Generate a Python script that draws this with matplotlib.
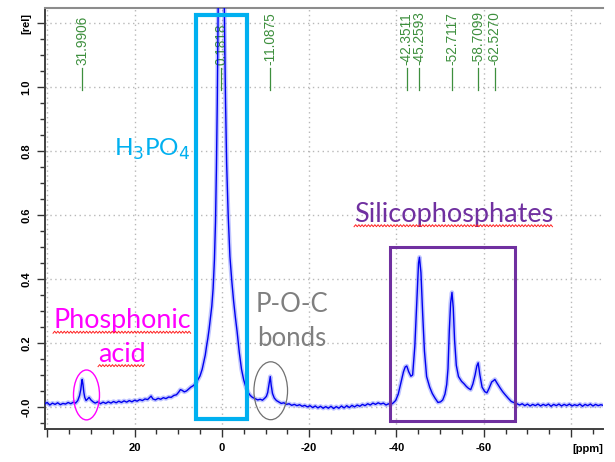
import matplotlib.pyplot as plt
from matplotlib.patches import Rectangle, Ellipse
from matplotlib.lines import Line2D
from matplotlib.transforms import IdentityTransform
from matplotlib.ticker import MultipleLocator

plt.rcParams['axes.unicode_minus'] = False

# 31P spectrum trace: chemical shift (ppm) and relative intensity, 10 points per row
shift_ppm = [40.5, 40.0, 39.4, 38.8, 38.2, 37.6, 37.0, 36.4, 35.8, 35.2,
             34.6, 34.0, 33.5, 33.0, 32.6, 32.3, 32.1, 31.99, 31.8, 31.6,
             31.4, 31.1, 30.8, 30.4, 30.0, 29.5, 29.0, 28.4, 27.8, 27.2,
             26.6, 26.0, 25.4, 24.8, 24.2, 23.6, 23.0, 22.4, 21.8, 21.2,
             20.6, 20.0, 19.4, 18.8, 18.2, 17.6, 17.0, 16.5, 16.2, 15.8,
             15.2, 14.6, 14.0, 13.4, 12.8, 12.2, 11.6, 11.0, 10.4, 9.9,
             9.5, 9.1, 8.6, 8.1, 7.6, 7.1, 6.6, 6.1, 5.6, 5.0,
             4.5, 4.2, 3.8, 3.5, 3.2, 2.9, 2.6, 2.3, 2.0, 1.7,
             1.45, 1.25, 1.05, 0.9, 0.75, 0.5, 0.18, -0.15, -0.45, -0.65,
             -0.85, -1.1, -1.45, -1.85, -2.3, -2.7, -3.1, -3.5, -4.0, -4.5,
             -5.0, -5.5, -6.0, -6.5, -7.0, -7.6, -8.2, -8.8, -9.3, -9.8,
             -10.2, -10.5, -10.8, -11.09, -11.3, -11.6, -12.0, -12.5, -13.0, -13.6,
             -14.2, -14.8, -15.4, -16.0, -16.6, -17.2, -17.8, -18.4, -19.0, -19.6,
             -20.2, -20.8, -21.4, -22.0, -22.6, -23.2, -23.8, -24.4, -25.0, -25.6,
             -26.2, -26.8, -27.4, -28.0, -28.6, -29.2, -29.8, -30.4, -31.0, -31.6,
             -32.2, -32.8, -33.4, -34.0, -34.6, -35.2, -35.8, -36.4, -37.0, -37.6,
             -38.2, -38.6, -39.2, -39.8, -40.4, -41.0, -41.6, -42.0, -42.35, -42.8,
             -43.3, -43.7, -44.2, -44.7, -45.05, -45.26, -45.6, -46.0, -46.4, -46.9,
             -47.6, -48.2, -48.8, -49.5, -50.1, -50.6, -51.1, -51.5, -51.8, -52.1,
             -52.4, -52.71, -53.0, -53.3, -53.7, -54.2, -54.9, -55.5, -56.0, -56.5,
             -57.0, -57.5, -58.0, -58.4, -58.71, -59.1, -59.6, -60.2, -60.7, -61.2,
             -61.8, -62.2, -62.53, -63.0, -63.7, -64.3, -64.9, -65.6, -66.3, -67.0,
             -67.6, -68.2, -68.8, -69.4, -70.0, -70.6, -71.2, -71.8, -72.4, -73.0,
             -73.6, -74.2, -74.8, -75.4, -76.0, -76.6, -77.2, -77.8, -78.4, -79.0,
             -79.6, -80.2, -80.8, -81.4, -82.0, -82.6, -83.2, -83.8, -84.4, -85.0,
             -85.6, -86.2, -86.8, -87.3]
intensity = [0.010, 0.014, 0.006, 0.012, 0.008, 0.013, 0.007, 0.011, 0.009, 0.014,
             0.010, 0.015, 0.012, 0.020, 0.035, 0.055, 0.078, 0.086, 0.070, 0.045,
             0.030, 0.020, 0.024, 0.030, 0.022, 0.016, 0.012, 0.016, 0.010, 0.015,
             0.011, 0.016, 0.012, 0.017, 0.013, 0.018, 0.014, 0.019, 0.015, 0.020,
             0.016, 0.021, 0.018, 0.023, 0.020, 0.025, 0.023, 0.030, 0.034, 0.025,
             0.022, 0.027, 0.024, 0.029, 0.026, 0.031, 0.030, 0.036, 0.038, 0.046,
             0.054, 0.052, 0.047, 0.050, 0.056, 0.062, 0.066, 0.072, 0.082, 0.097,
             0.118, 0.137, 0.162, 0.190, 0.215, 0.245, 0.280, 0.315, 0.370, 0.460,
             0.580, 0.740, 0.950, 1.150, 1.400, 1.900, 2.300, 1.900, 1.400, 1.150,
             0.950, 0.760, 0.600, 0.470, 0.390, 0.330, 0.280, 0.235, 0.170, 0.118,
             0.085, 0.062, 0.046, 0.036, 0.030, 0.026, 0.022, 0.024, 0.021, 0.027,
             0.033, 0.045, 0.070, 0.095, 0.068, 0.042, 0.028, 0.020, 0.016, 0.011,
             0.013, 0.008, 0.010, 0.005, 0.008, 0.004, 0.007, 0.002, 0.005, 0.000,
             0.004, -0.002, 0.003, -0.003, 0.002, -0.004, 0.001, -0.004, 0.002, -0.005,
             0.001, -0.004, 0.003, -0.003, 0.004, -0.002, 0.005, 0.000, 0.006, 0.002,
             0.008, 0.004, 0.010, 0.006, 0.012, 0.008, 0.013, 0.009, 0.012, 0.006,
             0.010, 0.006, 0.012, 0.020, 0.040, 0.075, 0.110, 0.125, 0.128, 0.110,
             0.096, 0.100, 0.190, 0.345, 0.450, 0.468, 0.420, 0.290, 0.175, 0.095,
             0.062, 0.042, 0.028, 0.014, 0.016, 0.022, 0.040, 0.070, 0.120, 0.240,
             0.325, 0.358, 0.310, 0.210, 0.130, 0.095, 0.080, 0.072, 0.064, 0.058,
             0.054, 0.072, 0.100, 0.128, 0.138, 0.100, 0.062, 0.048, 0.044, 0.058,
             0.078, 0.082, 0.086, 0.075, 0.060, 0.048, 0.038, 0.027, 0.017, 0.013,
             0.010, 0.006, 0.010, 0.004, 0.009, 0.003, 0.008, 0.004, 0.009, 0.003,
             0.008, 0.004, 0.009, 0.002, 0.008, 0.004, 0.009, 0.003, 0.008, 0.004,
             0.009, 0.003, 0.007, 0.004, 0.009, 0.002, 0.008, 0.004, 0.009, 0.003,
             0.008, 0.004, 0.007, 0.005]

# picked peaks
peak_ppm = [31.9906, 0.1818, -11.0875, -42.3511, -45.2593, -52.7117, -58.7099, -62.5270]
peak_text = ['31.9906', '0.1818', '-11.0875', '-42.3511', '-45.2593', '-52.7117', '-58.7099', '-62.5270']

x_ticks = [40, 20, 0, -20, -40, -60, -80]
x_ticklabels = ['', '20', '0', '-20', '-40', '-60', '']
y_ticks = [0.0, 0.2, 0.4, 0.6, 0.8, 1.0, 1.2]
y_ticklabels = ['-0.0', '0.2', '0.4', '0.6', '0.8', '1.0', '[rel]']

fig = plt.figure(figsize=(6.15, 4.62), dpi=100)
ax = fig.add_axes([0.0732, 0.0714, 0.9073, 0.9113])

# spectrum: soft halo for the noise band, then the core line
ax.plot(shift_ppm, intensity, color='#3040ff', lw=3.2, alpha=0.3, zorder=3)
ax.plot(shift_ppm, intensity, color='#0000f0', lw=1.0, zorder=4)

ax.set_xlim(40.5, -87.3)
ax.set_ylim(-0.069, 1.247)

ax.set_xticks(x_ticks)
ax.set_xticklabels(x_ticklabels, fontsize=8, fontweight='bold', family='Liberation Sans')
ax.xaxis.set_minor_locator(MultipleLocator(5))
ax.set_yticks(y_ticks)
ax.set_yticklabels(y_ticklabels, fontsize=8, fontweight='bold', family='Liberation Sans',
                   rotation=90, va='center')
ax.yaxis.set_minor_locator(MultipleLocator(0.05))
ax.tick_params(which='major', direction='out', length=6, width=1, color='#333333', pad=4)
ax.tick_params(which='minor', direction='out', length=3.5, width=1, color='#333333')
ax.text(1.0, -0.035, '[ppm]', transform=ax.transAxes, ha='right', va='top',
        fontsize=8, fontweight='bold', family='Liberation Sans')

ax.grid(True, which='major', linestyle=(0, (1, 2.5)), color='#b8b8b8', lw=1.0, zorder=0)
for side in ['left', 'bottom']:
    ax.spines[side].set_color('#404040')
    ax.spines[side].set_linewidth(1.4)
ax.spines['top'].set_color('#8c8c8c')
ax.spines['top'].set_linewidth(1.5)
ax.spines['right'].set_visible(False)

# peak labels
for p, s in zip(peak_ppm, peak_text):
    ax.text(p, 1.069, s, rotation=90, ha='center', va='bottom', fontsize=9.8,
            color='#3d8f3d', family='Liberation Sans')
    ax.plot([p, p], [0.99, 1.058], color='#3d8f3d', lw=0.9, zorder=2)

# highlighted regions
ax.add_patch(Rectangle((5.9, -0.0375), -11.55, 1.2625, fill=False,
                       edgecolor='#00b0f0', lw=3.0, zorder=5))
ax.add_patch(Rectangle((-38.6, -0.044), -28.5, 0.544, fill=False,
                       edgecolor='#7030a0', lw=2.2, zorder=5))
ax.add_patch(Ellipse((31.0, 0.0375), 5.95, 0.156, fill=False,
                     edgecolor='#ff00ff', lw=1.0, zorder=5))
ax.add_patch(Ellipse((-11.2, 0.0506), 7.7, 0.181, fill=False,
                     edgecolor='#707070', lw=0.9, zorder=5))

font = 'Lato'
ax.text(16.0, 0.784, r'H$_3$PO$_4$', color='#00b0f0', fontsize=17.5, family=font,
        ha='center', va='baseline')
t1 = ax.text(22.9, 0.246, 'Phosphonic', color='#ff00ff', fontsize=19.4, family=font,
             ha='center', va='baseline')
t2 = ax.text(22.9, 0.1416, 'acid', color='#ff00ff', fontsize=19.4, family=font,
             ha='center', va='baseline')
ax.text(-16.0, 0.298, 'P-O-C', color='#7f7f7f', fontsize=18.5, family=font,
        ha='center', va='baseline')
ax.text(-16.0, 0.192, 'bonds', color='#7f7f7f', fontsize=18.5, family=font,
        ha='center', va='baseline')
t3 = ax.text(-53.1, 0.579, 'Silicophosphates', color='#7030a0', fontsize=19.5, family=font,
             ha='center', va='baseline')

# red spell-check squiggles under the labels
fig.canvas.draw()
renderer = fig.canvas.get_renderer()
for t in [t1, t2, t3]:
    bb = t.get_window_extent(renderer)
    base = ax.transData.transform(t.get_position())[1] - 4
    xs, ys = [], []
    x = bb.x0
    k = 0
    while x <= bb.x1:
        xs.append(x)
        ys.append(base + (1.0 if k % 2 else -1.0))
        x += 1.6
        k += 1
    fig.add_artist(Line2D(xs, ys, color='#ff2020', lw=0.7, transform=IdentityTransform()))

fig.savefig('out.png', dpi=100)
